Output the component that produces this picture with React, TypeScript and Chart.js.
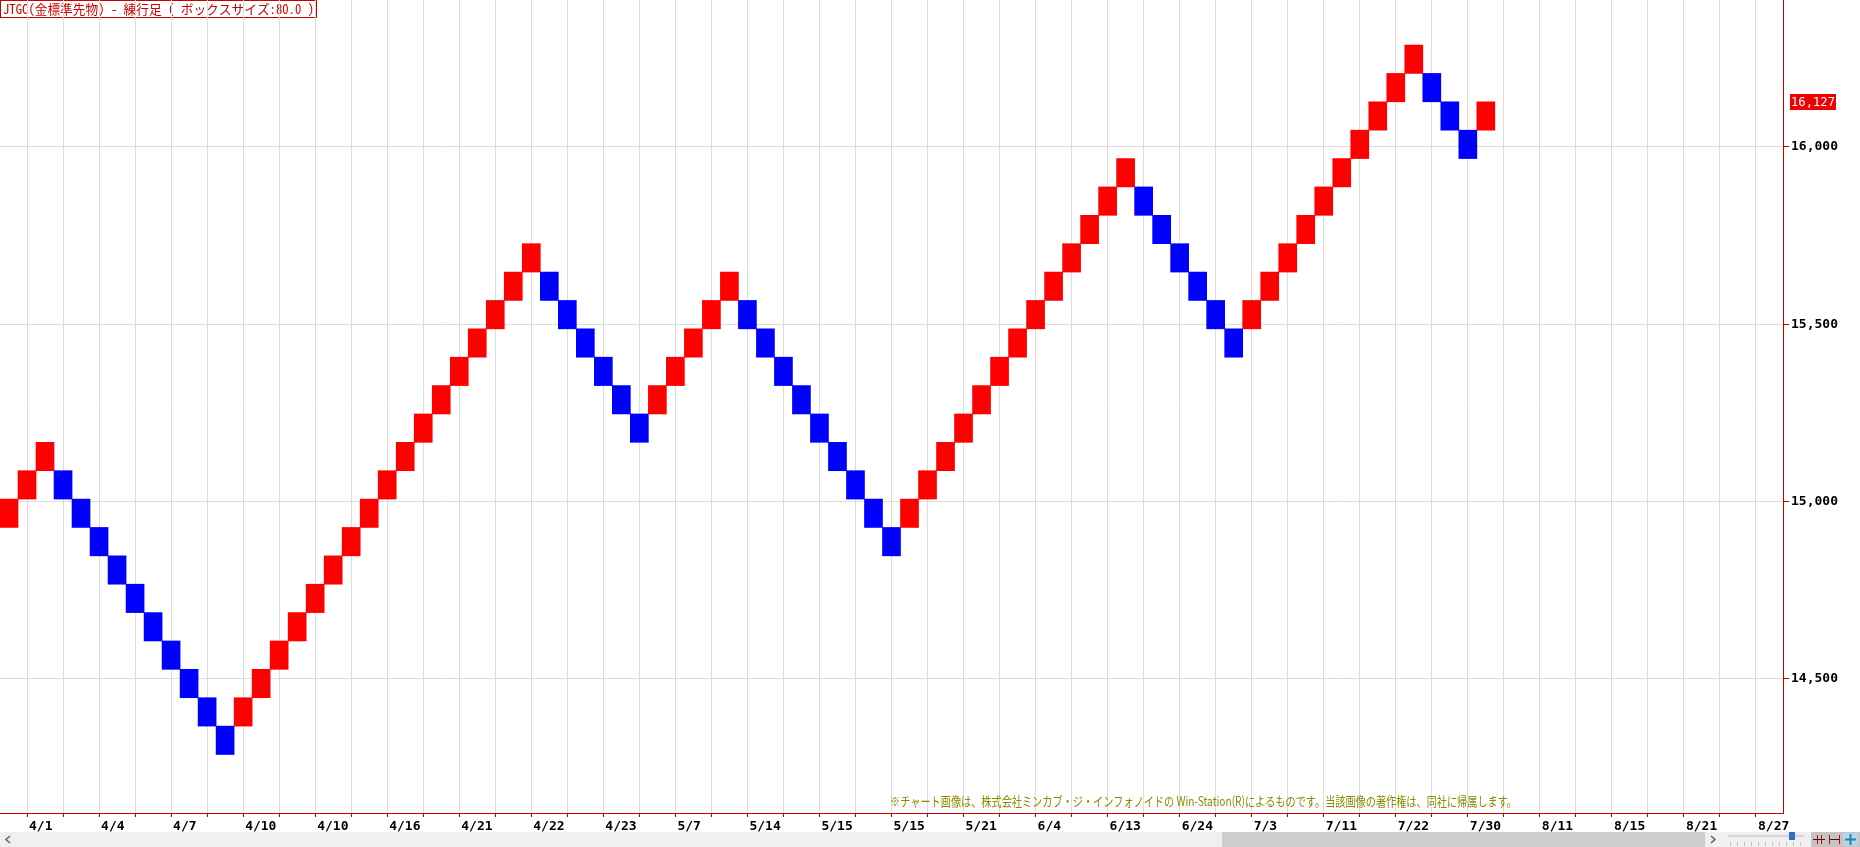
import React, { useEffect, useRef } from 'react';
import { Chart, registerables } from 'chart.js';

Chart.register(...registerables);

const TITLE = 'JTGC(金標準先物) - 練行足 ( ボックスサイズ:80.0 )';
const COPYRIGHT =
  '※チャート画像は、株式会社ミンカブ・ジ・インフォノイドの Win-Station(R)によるものです。当該画像の著作権は、同社に帰属します。';
const BOX_SIZE = 80;
const LAST_PRICE = 16127;

// lower edge of each renko brick, left to right
const brickLows = [
  14927, 15007, 15087, 15007, 14927, 14847, 14767, 14687, 14607, 14527,
  14447, 14367, 14287, 14367, 14447, 14527, 14607, 14687, 14767, 14847,
  14927, 15007, 15087, 15167, 15247, 15327, 15407, 15487, 15567, 15647,
  15567, 15487, 15407, 15327, 15247, 15167, 15247, 15327, 15407, 15487,
  15567, 15487, 15407, 15327, 15247, 15167, 15087, 15007, 14927, 14847,
  14927, 15007, 15087, 15167, 15247, 15327, 15407, 15487, 15567, 15647,
  15727, 15807, 15887, 15807, 15727, 15647, 15567, 15487, 15407, 15487,
  15567, 15647, 15727, 15807, 15887, 15967, 16047, 16127, 16207, 16127,
  16047, 15967, 16047,
];

const dateLabels = [
  '4/1', '4/4', '4/7', '4/10', '4/10', '4/16', '4/21', '4/22', '4/23',
  '5/7', '5/14', '5/15', '5/15', '5/21', '6/4', '6/13', '6/24', '7/3',
  '7/11', '7/22', '7/30', '8/11', '8/15', '8/21', '8/27',
];

const yTickValues = [14500, 15000, 15500, 16000];
const Y_MIN = 14122;
const Y_MAX = 16414;
const COLUMN_COUNT = 99;

const UP_COLOR = '#ff0000';
const DOWN_COLOR = '#0000ff';
const GRID_COLOR = '#dcdcdc';
const AXIS_RED = '#c80000';
const AXIS_FONT = { family: '"DejaVu Sans Mono", monospace', size: 13, weight: 'bold' as const };

const categoryLabels: string[] = [];
for (let i = 0; i < COLUMN_COUNT; i++) {
  categoryLabels.push(i >= 1 && (i - 1) % 4 === 0 ? dateLabels[(i - 1) / 4] ?? '' : '');
}

const brickColors = brickLows.map((low, i) =>
  i === 0 || low > brickLows[i - 1] ? UP_COLOR : DOWN_COLOR
);

const decorPlugin = {
  id: 'decor',
  beforeDraw(chart: any) {
    const ctx = chart.ctx as CanvasRenderingContext2D;
    ctx.save();
    ctx.fillStyle = '#ffffff';
    ctx.fillRect(0, 0, chart.width, chart.height);
    ctx.font = '13px "Noto Sans Mono CJK JP", "DejaVu Sans Mono", "Noto Sans CJK JP", monospace';
    ctx.fillStyle = '#c80000';
    ctx.textBaseline = 'middle';
    ctx.textAlign = 'left';
    ctx.fillText(TITLE, 3, 9, 311);
    ctx.strokeStyle = '#c80000';
    ctx.lineWidth = 1;
    ctx.strokeRect(0.5, 0.5, 316, 17);
    ctx.restore();
  },
  afterDraw(chart: any) {
    const ctx = chart.ctx as CanvasRenderingContext2D;
    const yScale = chart.scales.y;
    ctx.save();

    // copyright note
    ctx.font = '13px "Noto Sans CJK JP", sans-serif';
    ctx.fillStyle = '#8a8a00';
    ctx.textBaseline = 'middle';
    ctx.textAlign = 'left';
    ctx.fillText(COPYRIGHT, 890, 801, 627);

    // last price label
    const py = Math.round(yScale.getPixelForValue(LAST_PRICE));
    ctx.fillStyle = '#ee0000';
    ctx.fillRect(1790, py - 8, 46, 16);
    ctx.fillStyle = '#ffffff';
    ctx.font = '13px "DejaVu Sans Mono", monospace';
    ctx.fillText(LAST_PRICE.toLocaleString('en-US'), 1791, py + 1, 44);

    // scroll bar strip
    ctx.fillStyle = '#f0f0f0';
    ctx.fillRect(0, 832, 1860, 15);
    ctx.fillStyle = '#cdcdcd';
    ctx.fillRect(1222, 832, 483, 15);
    ctx.strokeStyle = '#606060';
    ctx.lineWidth = 1.5;
    ctx.beginPath();
    ctx.moveTo(10, 836); ctx.lineTo(6, 839.5); ctx.lineTo(10, 843);
    ctx.stroke();
    ctx.beginPath();
    ctx.moveTo(1711, 836); ctx.lineTo(1715, 839.5); ctx.lineTo(1711, 843);
    ctx.stroke();
    // zoom slider
    ctx.strokeStyle = '#d4d4d4';
    ctx.lineWidth = 2;
    ctx.beginPath();
    ctx.moveTo(1728, 836); ctx.lineTo(1804, 836);
    ctx.stroke();
    ctx.strokeStyle = '#c0c0c0';
    ctx.lineWidth = 1;
    for (let x = 1730; x <= 1802; x += 7) {
      ctx.beginPath();
      ctx.moveTo(x + 0.5, 842); ctx.lineTo(x + 0.5, 846);
      ctx.stroke();
    }
    ctx.fillStyle = '#2f6fc8';
    ctx.fillRect(1789, 832, 6, 8);
    // tool icons
    ctx.fillStyle = '#c4c4c4';
    ctx.fillRect(1811, 832, 49, 15);
    ctx.strokeStyle = '#202020';
    ctx.lineWidth = 1;
    ctx.beginPath();
    ctx.moveTo(1813, 839.5); ctx.lineTo(1825, 839.5);
    ctx.moveTo(1829, 839.5); ctx.lineTo(1840, 839.5);
    ctx.stroke();
    ctx.strokeStyle = '#d00000';
    ctx.beginPath();
    ctx.moveTo(1817.5, 835); ctx.lineTo(1817.5, 844);
    ctx.moveTo(1821.5, 835); ctx.lineTo(1821.5, 844);
    ctx.moveTo(1829.5, 835); ctx.lineTo(1829.5, 844);
    ctx.moveTo(1839.5, 835); ctx.lineTo(1839.5, 844);
    ctx.stroke();
    ctx.fillStyle = '#b8d4ec';
    ctx.fillRect(1843, 833, 15, 13);
    ctx.strokeStyle = '#1a8aa0';
    ctx.lineWidth = 2;
    ctx.beginPath();
    ctx.moveTo(1845, 839.5); ctx.lineTo(1856, 839.5);
    ctx.moveTo(1850.5, 834); ctx.lineTo(1850.5, 845);
    ctx.stroke();

    ctx.restore();
  },
};

export default function App() {
  const canvasRef = useRef<HTMLCanvasElement | null>(null);

  useEffect(() => {
    document.body.style.margin = '0';
    const canvas = canvasRef.current;
    if (!canvas) return;
    const chart = new Chart(canvas, {
      type: 'bar',
      data: {
        labels: categoryLabels,
        datasets: [
          {
            data: brickLows.map((low) => [low, low + BOX_SIZE]) as any,
            backgroundColor: brickColors,
            borderWidth: 0,
            barPercentage: 1,
            categoryPercentage: 1,
          },
        ],
      },
      options: {
        animation: false,
        responsive: false,
        layout: { padding: 0 },
        plugins: {
          legend: { display: false },
          tooltip: { enabled: false },
          title: { display: false },
        },
        scales: {
          x: {
            offset: true,
            grid: {
              offset: false,
              color: (c: any) => (c.index % 2 === 1 ? GRID_COLOR : 'rgba(0,0,0,0)'),
              tickColor: (c: any) => (c.index % 2 === 1 ? AXIS_RED : 'rgba(0,0,0,0)'),
              tickLength: 4,
            },
            border: { color: AXIS_RED, width: 1 },
            ticks: {
              autoSkip: false,
              maxRotation: 0,
              minRotation: 0,
              align: 'start',
              labelOffset: 2,
              padding: 2,
              color: '#000000',
              font: AXIS_FONT,
            },
            afterFit: (s: any) => {
              s.height = 34;
              s.paddingLeft = 0;
              s.paddingRight = 0;
            },
          },
          y: {
            position: 'right',
            min: Y_MIN,
            max: Y_MAX,
            afterBuildTicks: (s: any) => {
              s.ticks = yTickValues.map((v) => ({ value: v }));
            },
            grid: { color: GRID_COLOR, tickColor: AXIS_RED, tickLength: 6 },
            border: { color: AXIS_RED, width: 1 },
            ticks: {
              padding: 2,
              color: '#000000',
              font: AXIS_FONT,
              callback: (v: any) => Number(v).toLocaleString('en-US'),
            },
            afterFit: (s: any) => {
              s.width = 77;
              s.paddingTop = 0;
              s.paddingBottom = 0;
            },
          },
        },
      },
      plugins: [decorPlugin],
    });
    return () => chart.destroy();
  }, []);

  return (
    <div style={{ width: 1860, height: 847 }}>
      <canvas ref={canvasRef} width={1860} height={847} style={{ display: 'block' }} />
    </div>
  );
}
